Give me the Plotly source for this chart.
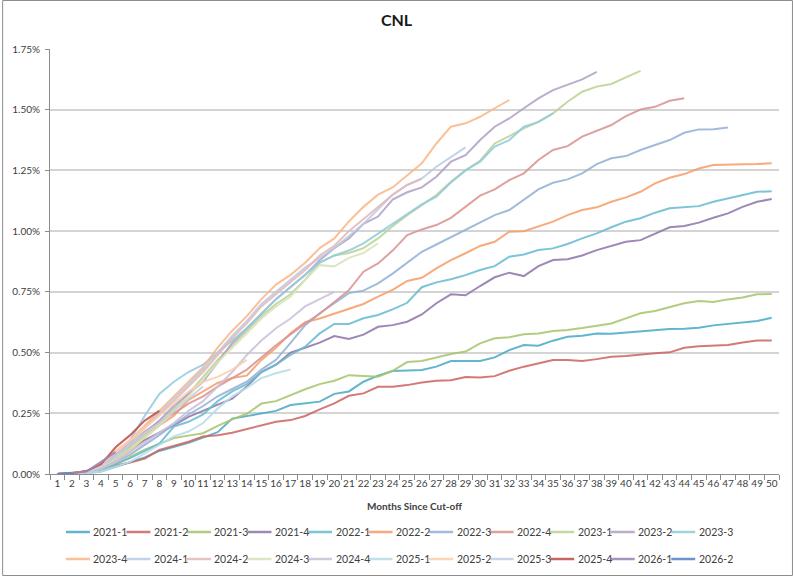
import plotly.graph_objects as go

months = [str(m) for m in range(1, 51)]

series_names = ["2021-1", "2021-2", "2021-3", "2021-4", "2022-1", "2022-2", "2022-3", "2022-4",
                "2023-1", "2023-2", "2023-3", "2023-4", "2024-1", "2024-2", "2024-3", "2024-4",
                "2025-1", "2025-2", "2025-3", "2025-4", "2026-1", "2026-2"]

s2021_1 = [0.000, 0.002, 0.004, 0.010, 0.030, 0.050, 0.068, 0.095, 0.112, 0.128, 0.150, 0.172, 0.228, 0.239, 0.250,
           0.260, 0.284, 0.290, 0.298, 0.330, 0.340, 0.380, 0.405, 0.424, 0.425, 0.428, 0.442, 0.465, 0.465, 0.465,
           0.480, 0.510, 0.531, 0.528, 0.549, 0.565, 0.569, 0.579, 0.577, 0.582, 0.586, 0.593, 0.597, 0.598, 0.602,
           0.612, 0.619, 0.623, 0.630, 0.643]
s2021_2 = [0.000, 0.002, 0.005, 0.015, 0.035, 0.047, 0.064, 0.099, 0.115, 0.133, 0.154, 0.160, 0.170, 0.184, 0.200,
           0.215, 0.222, 0.239, 0.266, 0.291, 0.322, 0.332, 0.359, 0.359, 0.366, 0.377, 0.384, 0.386, 0.399, 0.397,
           0.403, 0.425, 0.442, 0.456, 0.469, 0.469, 0.465, 0.473, 0.483, 0.486, 0.493, 0.497, 0.501, 0.520, 0.526,
           0.530, 0.531, 0.541, 0.550, 0.550]
s2021_3 = [0.000, 0.002, 0.005, 0.012, 0.040, 0.070, 0.100, 0.125, 0.148, 0.158, 0.168, 0.198, 0.225, 0.248, 0.290,
           0.300, 0.325, 0.349, 0.370, 0.384, 0.407, 0.403, 0.400, 0.425, 0.461, 0.465, 0.479, 0.494, 0.504, 0.538,
           0.559, 0.563, 0.575, 0.579, 0.589, 0.593, 0.601, 0.609, 0.620, 0.641, 0.662, 0.671, 0.686, 0.703, 0.712,
           0.708, 0.719, 0.727, 0.740, 0.741]
s2021_4 = [0.000, 0.002, 0.006, 0.030, 0.060, 0.100, 0.140, 0.170, 0.200, 0.235, 0.260, 0.285, 0.310, 0.360, 0.420,
           0.450, 0.500, 0.520, 0.541, 0.568, 0.556, 0.574, 0.606, 0.613, 0.627, 0.657, 0.703, 0.740, 0.736, 0.774,
           0.810, 0.829, 0.815, 0.856, 0.881, 0.884, 0.900, 0.922, 0.939, 0.956, 0.963, 0.988, 1.016, 1.021, 1.035,
           1.055, 1.073, 1.100, 1.121, 1.132]
s2022_1 = [0.000, 0.002, 0.005, 0.015, 0.040, 0.065, 0.095, 0.125, 0.195, 0.215, 0.245, 0.300, 0.340, 0.370, 0.420,
           0.450, 0.490, 0.524, 0.579, 0.618, 0.618, 0.641, 0.655, 0.678, 0.705, 0.769, 0.789, 0.802, 0.819, 0.840,
           0.856, 0.895, 0.904, 0.922, 0.929, 0.947, 0.970, 0.991, 1.016, 1.039, 1.053, 1.076, 1.094, 1.100, 1.103,
           1.121, 1.135, 1.146, 1.162, 1.164]
s2022_2 = [0.000, 0.003, 0.008, 0.025, 0.055, 0.095, 0.150, 0.200, 0.240, 0.305, 0.340, 0.375, 0.395, 0.405, 0.470,
           0.520, 0.580, 0.625, 0.640, 0.660, 0.680, 0.700, 0.730, 0.758, 0.795, 0.808, 0.847, 0.881, 0.909, 0.939,
           0.956, 0.998, 1.000, 1.018, 1.039, 1.066, 1.087, 1.098, 1.121, 1.139, 1.162, 1.197, 1.220, 1.235, 1.258,
           1.272, 1.275, 1.275, 1.276, 1.280]
s2022_3 = [0.000, 0.002, 0.006, 0.020, 0.050, 0.080, 0.120, 0.160, 0.205, 0.245, 0.280, 0.320, 0.350, 0.380, 0.430,
           0.470, 0.540, 0.613, 0.662, 0.703, 0.745, 0.755, 0.785, 0.825, 0.870, 0.915, 0.945, 0.975, 1.005, 1.035,
           1.066, 1.087, 1.131, 1.172, 1.199, 1.213, 1.238, 1.276, 1.300, 1.309, 1.334, 1.354, 1.375, 1.405, 1.419,
           1.420, 1.427]
s2022_4 = [0.000, 0.002, 0.008, 0.035, 0.075, 0.120, 0.175, 0.215, 0.250, 0.290, 0.320, 0.360, 0.395, 0.430, 0.480,
           0.530, 0.575, 0.620, 0.660, 0.710, 0.757, 0.833, 0.867, 0.920, 0.984, 1.007, 1.025, 1.055, 1.100, 1.146,
           1.172, 1.210, 1.238, 1.293, 1.334, 1.350, 1.389, 1.412, 1.437, 1.474, 1.501, 1.512, 1.537, 1.547]
s2023_1 = [0.000, 0.002, 0.008, 0.030, 0.070, 0.110, 0.160, 0.210, 0.270, 0.330, 0.400, 0.470, 0.530, 0.590, 0.650,
           0.700, 0.740, 0.800, 0.870, 0.900, 0.910, 0.930, 0.970, 1.020, 1.066, 1.107, 1.149, 1.203, 1.250, 1.290,
           1.361, 1.391, 1.423, 1.450, 1.485, 1.533, 1.574, 1.595, 1.606, 1.633, 1.660]
s2023_2 = [0.000, 0.003, 0.010, 0.035, 0.075, 0.120, 0.170, 0.220, 0.280, 0.330, 0.380, 0.460, 0.540, 0.600, 0.660,
           0.720, 0.770, 0.820, 0.880, 0.930, 0.970, 1.030, 1.060, 1.130, 1.160, 1.180, 1.224, 1.286, 1.313, 1.375,
           1.430, 1.464, 1.506, 1.547, 1.581, 1.604, 1.625, 1.656]
s2023_3 = [0.000, 0.003, 0.010, 0.030, 0.070, 0.140, 0.240, 0.330, 0.380, 0.420, 0.450, 0.500, 0.550, 0.600, 0.660,
           0.720, 0.770, 0.820, 0.870, 0.900, 0.920, 0.950, 0.990, 1.030, 1.070, 1.110, 1.142, 1.200, 1.250, 1.286,
           1.348, 1.375, 1.430, 1.450, 1.485]
s2023_4 = [0.000, 0.003, 0.012, 0.045, 0.095, 0.140, 0.200, 0.260, 0.320, 0.380, 0.440, 0.520, 0.590, 0.650, 0.720,
           0.780, 0.820, 0.870, 0.930, 0.970, 1.040, 1.100, 1.150, 1.180, 1.231, 1.279, 1.361, 1.430, 1.444, 1.471,
           1.506, 1.540]
s2024_1 = [0.000, 0.003, 0.010, 0.035, 0.080, 0.130, 0.190, 0.250, 0.310, 0.370, 0.430, 0.500, 0.570, 0.630, 0.700,
           0.750, 0.800, 0.850, 0.890, 0.930, 0.980, 1.030, 1.090, 1.150, 1.190, 1.217, 1.265, 1.306, 1.345]
s2024_2 = [0.000, 0.003, 0.010, 0.040, 0.085, 0.135, 0.190, 0.245, 0.300, 0.360, 0.420, 0.490, 0.560, 0.620, 0.690,
           0.740, 0.790, 0.840, 0.900, 0.940, 1.000, 1.050, 1.100, 1.150, 1.190, 1.215]
s2024_3 = [0.000, 0.002, 0.008, 0.030, 0.060, 0.100, 0.150, 0.200, 0.260, 0.320, 0.390, 0.460, 0.520, 0.580, 0.640,
           0.690, 0.730, 0.800, 0.860, 0.855, 0.890, 0.910, 0.950]
s2024_4 = [0.000, 0.002, 0.006, 0.020, 0.050, 0.090, 0.130, 0.170, 0.210, 0.260, 0.300, 0.360, 0.420, 0.490, 0.550,
           0.600, 0.640, 0.690, 0.720, 0.750]
s2025_1 = [0.000, 0.000, 0.003, 0.010, 0.030, 0.050, 0.085, 0.120, 0.155, 0.175, 0.210, 0.270, 0.320, 0.355, 0.395,
           0.415, 0.430]
s2025_2 = [0.000, 0.003, 0.012, 0.040, 0.090, 0.140, 0.190, 0.240, 0.290, 0.340, 0.380, 0.400, 0.430, 0.470]
s2025_3 = [0.000, 0.002, 0.008, 0.030, 0.070, 0.120, 0.170, 0.210, 0.260, 0.310, 0.360]
s2025_4 = [0.000, 0.003, 0.012, 0.040, 0.110, 0.160, 0.220, 0.260]
s2026_1 = [0.000, 0.004, 0.010, 0.050, 0.090]
s2026_2 = [0.000, 0.003]

series_values = [s2021_1, s2021_2, s2021_3, s2021_4, s2022_1, s2022_2, s2022_3, s2022_4,
                 s2023_1, s2023_2, s2023_3, s2023_4, s2024_1, s2024_2, s2024_3, s2024_4,
                 s2025_1, s2025_2, s2025_3, s2025_4, s2026_1, s2026_2]

colors = ["#4bacc6", "#cd6866", "#a9c56f", "#9078ad", "#6bbcd2", "#f6a06a", "#95b3d7", "#d99694",
          "#bcd394", "#b3a2c7", "#93cddd", "#fab88a", "#b9cde5", "#e6b9b8", "#d7e4bd", "#ccc1da",
          "#b7dee8", "#fcd0ae", "#c6d0e4", "#c0504d", "#9a86b4", "#5a87c2"]

y_ticks = [0, 0.25, 0.5, 0.75, 1.0, 1.25, 1.5, 1.75]
y_tick_labels = ["0.00%", "0.25%", "0.50%", "0.75%", "1.00%", "1.25%", "1.50%", "1.75%"]

FONT = "Lato, 'Open Sans', sans-serif"
W, H = 793, 576
ML, MR, MT, MB = 48, 14, 49, 102
PW, PH = W - ML - MR, H - MT - MB

fig = go.Figure()
for name, vals, col in zip(series_names, series_values, colors):
    fig.add_trace(go.Scatter(x=months[:len(vals)], y=vals, mode="lines", name=name,
                             line=dict(color=col, width=2), opacity=0.88, showlegend=False))

def px_x(p):
    return (p - ML) / PW

def px_y(p):
    return (H - MB - p) / PH

shapes = [dict(type="rect", xref="paper", yref="paper",
               x0=px_x(0.5), x1=px_x(W - 0.5), y0=px_y(H - 0.5), y1=px_y(0.5),
               line=dict(color="#8c8c8c", width=1), fillcolor="rgba(0,0,0,0)", layer="below")]
annotations = []
per_row = 11
stride = 60.7
x_start = 64
row_y = [532, 559]
for i, (name, col) in enumerate(zip(series_names, colors)):
    r, c = divmod(i, per_row)
    lx = x_start + stride * c
    shapes.append(dict(type="line", xref="paper", yref="paper",
                       x0=px_x(lx), x1=px_x(lx + 24), y0=px_y(row_y[r]), y1=px_y(row_y[r]),
                       line=dict(color=col, width=2.5), opacity=0.88))
    annotations.append(dict(text=name, xref="paper", yref="paper", x=px_x(lx + 25.5), y=px_y(row_y[r]),
                            xanchor="left", yanchor="middle", showarrow=False,
                            font=dict(family=FONT, size=10.5, color="#404040")))

annotations.append(dict(text="<b>Months Since Cut-off</b>", xref="paper", yref="paper",
                        x=0.5, y=px_y(506), xanchor="center", yanchor="middle", showarrow=False,
                        font=dict(family=FONT, size=10, color="#404040")))

fig.update_layout(
    width=W, height=H,
    margin=dict(l=ML, r=MR, t=MT, b=MB),
    paper_bgcolor="white", plot_bgcolor="white",
    title=dict(text="<b>CNL</b>", x=0.5, xref="container", xanchor="center",
               y=1 - 20 / H, yref="container", yanchor="middle",
               font=dict(family=FONT, size=16, color="#1a1a1a")),
    font=dict(family=FONT, color="#404040"),
    shapes=shapes, annotations=annotations,
    xaxis=dict(type="category", categoryorder="array", categoryarray=months,
               range=[-0.5, 49.5], tickson="boundaries", ticks="outside", ticklen=5,
               tickcolor="#8c8c8c", showline=True, linecolor="#8c8c8c", linewidth=1,
               showgrid=False, zeroline=False, tickfont=dict(family=FONT, size=10, color="#404040"),
               tickangle=0),
    yaxis=dict(range=[0, 1.75], tickmode="array", tickvals=y_ticks, ticktext=y_tick_labels,
               ticks="outside", ticklen=4, tickcolor="#8c8c8c", showline=True, linecolor="#8c8c8c",
               linewidth=1, showgrid=True, gridcolor="#d4d4d4", gridwidth=1.5, zeroline=False,
               tickfont=dict(family=FONT, size=10, color="#404040"), ticklabelstandoff=3),
)

fig.write_html("out.html")
